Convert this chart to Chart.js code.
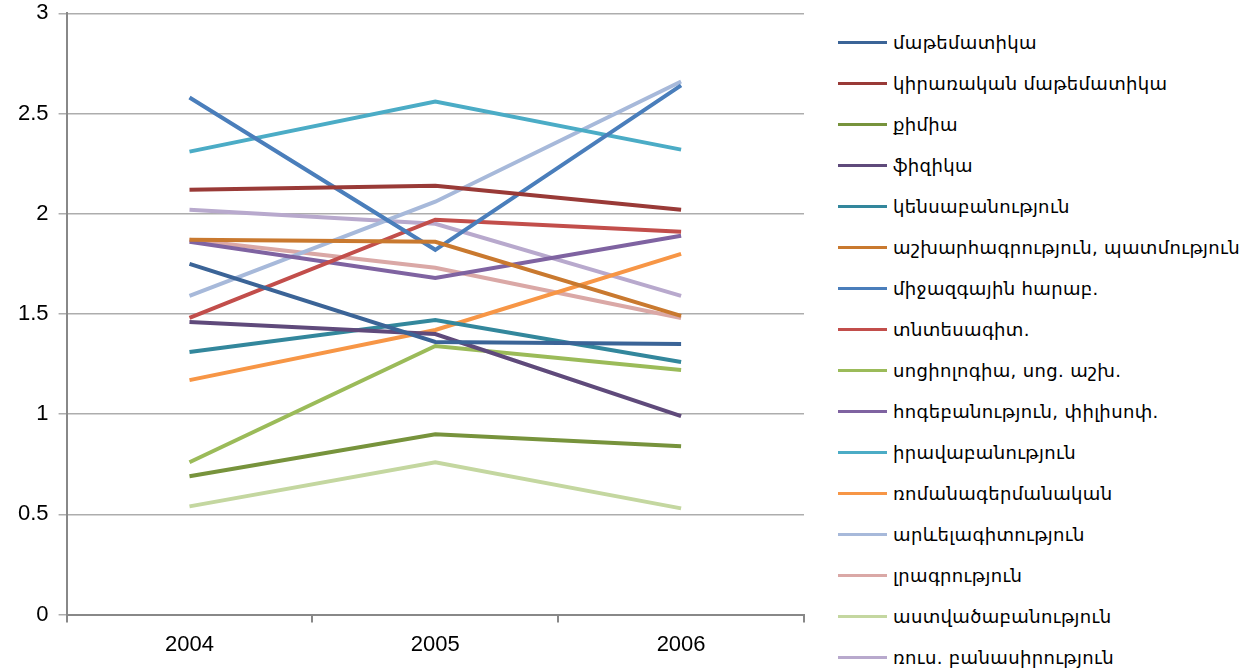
<!DOCTYPE html>
<html lang="hy">
<head>
<meta charset="UTF-8">
<script src="https://cdn.jsdelivr.net/npm/chart.js"></script>
<title>Chart</title>
<style>
  body { margin: 0; background: #fff; }
  #wrap { position: relative; width: 1247px; height: 669px; }
  #box { position: absolute; left: 0; top: 0; width: 816px; height: 669px; }
  #legend { position: absolute; left: 838px; top: 0; font-family: "DejaVu Sans", sans-serif; font-size: 18px; letter-spacing: 0.35px; color: #000; }
  .item { position: absolute; left: 0; white-space: nowrap; height: 20px; line-height: 20px; }
  .item span.ln { position: absolute; left: 0; top: 8px; width: 49px; height: 3px; }
  .item span.tx { position: absolute; left: 55px; top: 0; }
</style>
</head>
<body>
<div id="wrap">
  <div id="box"><canvas id="grafico"></canvas></div>
  <div id="legend"></div>
</div>
<script>
  // anos
  const anos = ["2004", "2005", "2006"];

  // nomes das series
  const nomes = [
    "մաթեմատիկա",
    "կիրառական մաթեմատիկա",
    "քիմիա",
    "ֆիզիկա",
    "կենսաբանություն",
    "աշխարհագրություն, պատմություն",
    "միջազգային հարաբ.",
    "տնտեսագիտ.",
    "սոցիոլոգիա, սոց. աշխ.",
    "հոգեբանություն, փիլիսոփ.",
    "իրավաբանություն",
    "ռոմանագերմանական",
    "արևելագիտություն",
    "լրագրություն",
    "աստվածաբանություն",
    "ռուս. բանասիրություն"
  ];

  // valores (2004, 2005, 2006)
  const matematika = [1.75, 1.36, 1.35];
  const kirarakan = [2.12, 2.14, 2.02];
  const kimia = [0.69, 0.90, 0.84];
  const fizika = [1.46, 1.40, 0.99];
  const kensabanutyun = [1.31, 1.47, 1.26];
  const ashkharhagrutyun = [1.87, 1.86, 1.49];
  const mijazgayin = [2.58, 1.82, 2.64];
  const tntesagit = [1.48, 1.97, 1.91];
  const sociologia = [0.76, 1.34, 1.22];
  const hogebanutyun = [1.86, 1.68, 1.89];
  const iravabanutyun = [2.31, 2.56, 2.32];
  const romanagermanakan = [1.17, 1.42, 1.80];
  const arevelagitutyun = [1.59, 2.06, 2.66];
  const lragrutyun = [1.87, 1.73, 1.48];
  const astvatsabanutyun = [0.54, 0.76, 0.53];
  const rusBanasirutyun = [2.02, 1.95, 1.59];

  const valores = [matematika, kirarakan, kimia, fizika, kensabanutyun, ashkharhagrutyun,
    mijazgayin, tntesagit, sociologia, hogebanutyun, iravabanutyun, romanagermanakan,
    arevelagitutyun, lragrutyun, astvatsabanutyun, rusBanasirutyun];

  const cores = [
    "#3B6497", "#993A37", "#77933C", "#5F4A7B", "#33879C", "#C9792F",
    "#4A7EBB", "#C24E4B", "#9BBB59", "#7F63A1", "#4BACC6", "#F79646",
    "#A7B9DA", "#DAA8A6", "#C4D7A0", "#B8A9CD"
  ];

  let datasets = [];
  for (i = 0; i < nomes.length; i++) {
    datasets.push({
      label: nomes[i],
      data: valores[i],
      borderColor: cores[i],
      backgroundColor: cores[i],
      borderWidth: 4,
      pointRadius: 0,
      tension: 0
    });
  }

  // legenda em html
  let legenda = document.getElementById("legend");
  for (i = 0; i < nomes.length; i++) {
    let div = document.createElement("div");
    div.className = "item";
    div.style.top = (33 + i * 41) + "px";
    div.innerHTML = "<span class='ln' style='background:" + cores[i] + "'></span><span class='tx'>" + nomes[i] + "</span>";
    legenda.appendChild(div);
  }

  const config = {
    type: "line",
    data: { labels: anos, datasets: datasets },
    options: {
      responsive: true,
      maintainAspectRatio: false,
      animation: false,
      layout: { padding: { top: 0, right: 12, bottom: 2, left: 8 } },
      plugins: {
        legend: { display: false },
        tooltip: { enabled: false }
      },
      scales: {
        x: {
          offset: true,
          grid: { offset: true, drawOnChartArea: false, color: "#888", tickLength: 8, lineWidth: 2 },
          border: { color: "#888", width: 2 },
          ticks: { color: "#000", padding: 9, font: { family: "Liberation Sans", size: 22 } }
        },
        y: {
          min: 0,
          max: 3,
          grid: { color: "#ADADAD", tickLength: 8, lineWidth: 1.5 },
          border: { color: "#888", width: 2 },
          ticks: {
            stepSize: 0.5, color: "#000", padding: 10,
            font: { family: "Liberation Sans", size: 22, lineHeight: 0.3 },
            callback: function (valor) { return valor.toString(); }
          }
        }
      }
    }
  };

  let grafico = new Chart(document.getElementById("grafico"), config);
</script>
</body>
</html>
